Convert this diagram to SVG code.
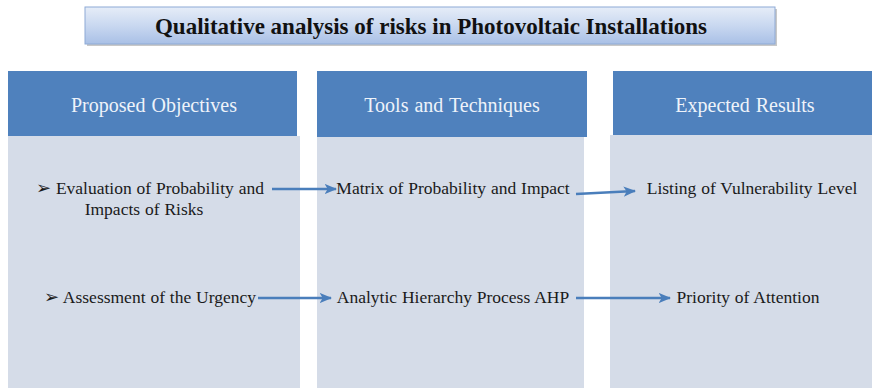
<svg xmlns="http://www.w3.org/2000/svg" width="872" height="388" viewBox="0 0 872 388">
<defs>
<linearGradient id="tg" x1="0" y1="0" x2="0" y2="1">
<stop offset="0" stop-color="#e6edf8"/>
<stop offset="0.5" stop-color="#c9d8f0"/>
<stop offset="1" stop-color="#a9c0e6"/>
</linearGradient>
<marker id="ah" viewBox="0 0 12 10" refX="11" refY="5" markerWidth="5" markerHeight="5" orient="auto" markerUnits="strokeWidth">
<path d="M0,0 L12,5 L0,10 L3,5 z" fill="#4a7ebb"/>
</marker>
<style>
.hdr{fill:#4f81bd}
.body{fill:#d5dce8}
.ht{font-size:20px;fill:#eef3fa;text-anchor:middle;word-spacing:1px}
.bt{font-size:17.5px;fill:#1a1a1a;text-anchor:middle;word-spacing:0.5px}
.conn{stroke:#4a7ebb;stroke-width:2.5;fill:none;marker-end:url(#ah)}
</style>
</defs>
<rect width="872" height="388" fill="#ffffff"/>
<g id="title">
<rect x="87" y="9" width="690" height="37" fill="#c8c8c8"/>
<rect x="85" y="7" width="690" height="37" fill="url(#tg)" stroke="#8eaad6" stroke-width="1"/>
<text x="431" y="34" text-anchor="middle" font-family="Liberation Serif, Times New Roman, DejaVu Serif, serif" font-size="23" font-weight="bold" fill="#111">Qualitative analysis of risks in Photovoltaic Installations</text>
</g>
<g id="col1">
<rect class="body" x="8" y="136" width="292" height="252"/>
<rect class="hdr" x="8" y="71" width="289" height="65"/>
<text class="ht" x="154" y="112" font-family="Liberation Serif, Times New Roman, DejaVu Serif, serif">Proposed Objectives</text>
</g>
<g id="col2">
<rect class="body" x="317" y="137" width="267" height="251"/>
<rect class="hdr" x="317" y="71" width="270" height="66"/>
<text class="ht" x="452" y="112" font-family="Liberation Serif, Times New Roman, DejaVu Serif, serif">Tools and Techniques</text>
</g>
<g id="col3">
<rect class="body" x="610" y="135" width="262" height="253"/>
<rect class="hdr" x="613" y="71" width="259" height="64"/>
<text class="ht" x="745" y="112" font-family="Liberation Serif, Times New Roman, DejaVu Serif, serif">Expected Results</text>
</g>
<g id="obj1" font-family="Liberation Serif, Times New Roman, DejaVu Serif, serif">
<text class="bt" x="150" y="194">➢ Evaluation of Probability and</text>
<text class="bt" x="144" y="215">Impacts of Risks</text>
</g>
<g id="obj2" font-family="Liberation Serif, Times New Roman, DejaVu Serif, serif">
<text class="bt" x="150" y="303">➢ Assessment of the Urgency</text>
</g>
<g id="tool1" font-family="Liberation Serif, Times New Roman, DejaVu Serif, serif">
<text class="bt" x="453" y="194">Matrix of Probability and Impact</text>
</g>
<g id="tool2" font-family="Liberation Serif, Times New Roman, DejaVu Serif, serif">
<text class="bt" x="453" y="303">Analytic Hierarchy Process AHP</text>
</g>
<g id="res1" font-family="Liberation Serif, Times New Roman, DejaVu Serif, serif">
<text class="bt" x="752" y="194">Listing of Vulnerability Level</text>
</g>
<g id="res2" font-family="Liberation Serif, Times New Roman, DejaVu Serif, serif">
<text class="bt" x="748" y="303">Priority of Attention</text>
</g>
<g id="connectors">
<line class="conn" x1="272" y1="189" x2="336" y2="189"/>
<line class="conn" x1="576" y1="194" x2="635" y2="191"/>
<line class="conn" x1="258" y1="298" x2="331" y2="298"/>
<line class="conn" x1="576" y1="298" x2="670" y2="298"/>
</g>
</svg>
